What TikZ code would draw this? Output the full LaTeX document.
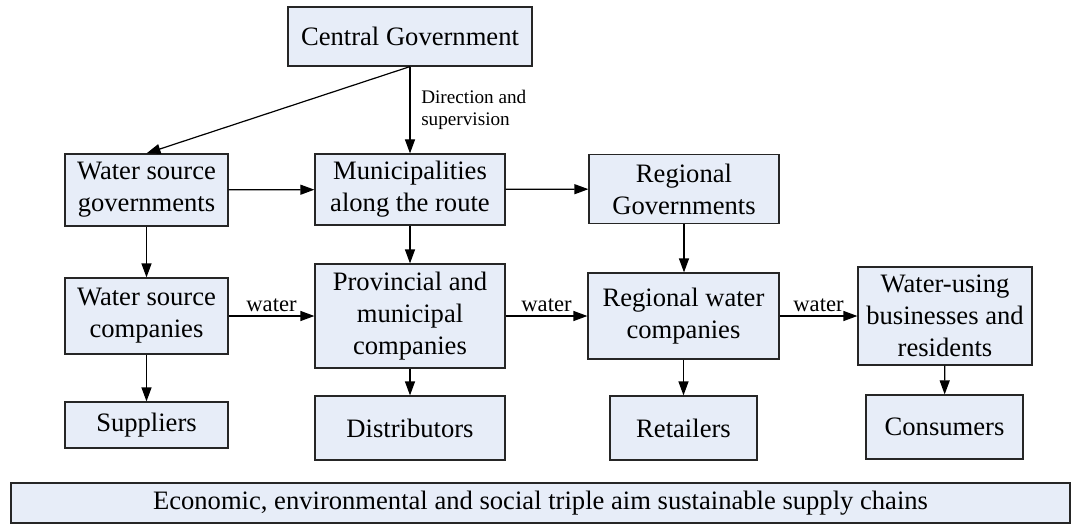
\documentclass[tikz,border=0pt]{standalone}
\usepackage{fontspec}
\setmainfont{Liberation Serif}
\usetikzlibrary{arrows.meta}
\definecolor{boxfill}{RGB}{231,237,248}
\tikzset{
  box/.style={draw=black!85, fill=boxfill, line width=0.6pt, align=center, inner sep=2pt,
    font=\fontsize{13.3}{16}\selectfont},
  link/.style={line width=0.6pt, -{Triangle[length=7pt,width=5pt]}},
  flowlabel/.style={font=\fontsize{11.3}{13}\selectfont, inner sep=2pt}
}
\begin{document}
\begin{tikzpicture}[x=0.5pt, y=-0.5pt]
    \useasboundingbox (0,0) rectangle (1071,524);

    % Governments
    \node[box, minimum width=122pt, minimum height=29.5pt] (cg) at (410,36.5) {Central Government};
    \node[box, minimum width=81.5pt, minimum height=36pt] (wsg) at (146.5,190) {Water source\\governments};
    \node[box, minimum width=95pt, minimum height=35.5pt] (mun) at (410,189.5) {Municipalities\\along the route};
    \node[box, minimum width=95pt, minimum height=34.5pt] (rg) at (684,189) {Regional\\Governments};

    % Companies
    \node[box, minimum width=81.5pt, minimum height=38pt] (wsc) at (146.5,316) {Water source\\companies};
    \node[box, minimum width=95pt, minimum height=52pt] (pmc) at (410,316) {Provincial and\\municipal\\companies};
    \node[box, minimum width=95.5pt, minimum height=43pt] (rwc) at (683.5,316) {Regional water\\companies};
    \node[box, minimum width=87pt, minimum height=49pt] (wu) at (945,316) {Water-using\\businesses and\\residents};

    % Supply chain members
    \node[box, minimum width=81.5pt, minimum height=23pt] (sup) at (146.5,425) {Suppliers};
    \node[box, minimum width=95pt, minimum height=32pt] (dist) at (410,428) {Distributors};
    \node[box, minimum width=73.5pt, minimum height=32pt] (ret) at (683.5,428) {Retailers};
    \node[box, minimum width=78.5pt, minimum height=32pt] (con) at (944.5,427) {Consumers};

    % Aim
    \node[box, minimum width=529.5pt, minimum height=20pt] (aim) at (540.5,503)
      {Economic, environmental and social triple aim sustainable supply chains};

    % Arrows
    \draw[link] (cg.south) -- (wsg.north);
    \draw[link] (cg) -- (mun) node[midway, right, xshift=2pt, align=left,
      font=\fontsize{9.6}{11}\selectfont] {Direction and\\supervision};
    \draw[link] (wsg) -- (mun);
    \draw[link] (mun) -- (rg);
    \draw[link] (wsg) -- (wsc);
    \draw[link] (mun) -- (pmc);
    \draw[link] (rg.south) -- (rwc.north -| rg.south);
    \draw[link] (wsc) -- (pmc) node[midway, above, flowlabel] {water};
    \draw[link] (pmc) -- (rwc) node[midway, above, flowlabel] {water};
    \draw[link] (rwc) -- (wu) node[midway, above, flowlabel] {water};
    \draw[link] (wsc) -- (sup);
    \draw[link] (pmc) -- (dist);
    \draw[link] (rwc) -- (ret);
    \draw[link] (wu) -- (con);
\end{tikzpicture}
\end{document}
